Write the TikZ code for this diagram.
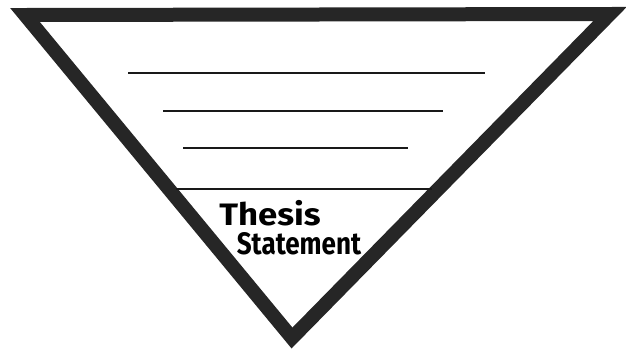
\documentclass[tikz,border=0pt]{standalone}
\usepackage{fontspec}
\usepackage{graphicx}
\newfontfamily\handfont{Fira Sans}

\begin{document}
\begin{tikzpicture}[x=1pt, y=-1pt, line join=miter, line cap=butt,
		edge/.style={line width=14pt, draw=black!85},
		rule/.style={line width=1.6pt, draw=black!90},
		label/.style={font=\handfont\bfseries\fontsize{31}{31}\selectfont, inner sep=0pt}]
	\useasboundingbox (0,0) rectangle (626,354);
	
	% Các đỉnh của tam giác
	\coordinate (A) at (25,15);
	\coordinate (B) at (610,14);
	\coordinate (C) at (292,338);
	
	% Viền tam giác
	\draw[edge] (A) -- (B) -- (C) -- cycle;
	
	% Các dòng kẻ
	\draw[rule] (128,73) -- (485,73);
	\draw[rule] (163,111) -- (443,111);
	\draw[rule] (183,148) -- (408,148);
	\draw[rule] (176,189) -- (432,189);
	
	% Ghi chú
	\node[label, anchor=base] (thesis) at (270,225) {\scalebox{1.12}[1]{Thesis}};
	\node[label, anchor=base] (statement) at (299,254) {\scalebox{0.84}[1]{Statement}};
\end{tikzpicture}
\end{document}
